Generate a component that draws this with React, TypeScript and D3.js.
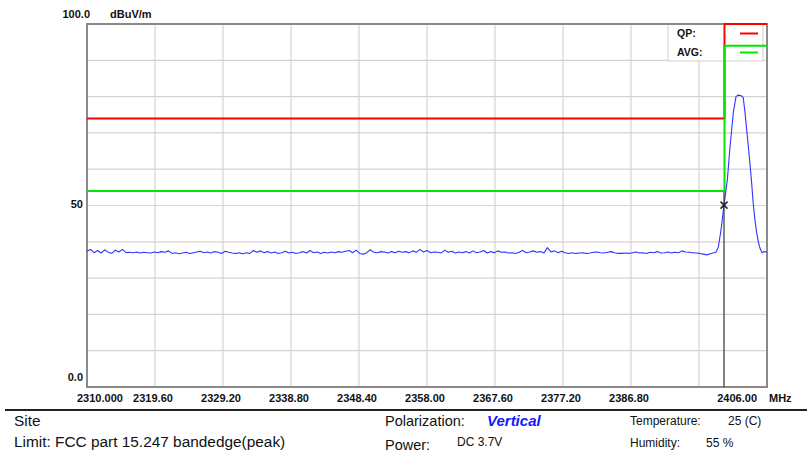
import React from "react";
import * as d3 from "d3";

// Frequency axis (MHz) and level axis (dBuV/m)
const freqDomain = [2310, 2406];
const levelDomain = [0, 100];
const xTickLabels = ["2310.000", "2319.60", "2329.20", "2338.80", "2348.40", "2358.00", "2367.60", "2377.20", "2386.80", "", "2406.00"];
const yGridValues = [0, 10, 20, 30, 40, 50, 60, 70, 80, 90, 100];

// Noise floor sampled every 0.5 MHz from 2310.0 to 2398.5 MHz
const noiseStart = 2310;
const noiseStep = 0.5;
const noiseLevels = [
  37.4, 37.9, 37.0, 37.6, 36.9, 37.8, 37.1, 36.8, 37.7, 37.2, 37.9, 37.0, 37.1, 37.0, 37.2, 36.9, 37.1, 37.0, 36.9, 37.2,
  37.0, 37.3, 37.1, 37.5, 36.8, 37.0, 36.7, 36.9, 37.1, 36.8, 37.0, 37.2, 37.4, 37.0, 37.2, 36.9, 37.3, 37.1, 36.8, 37.4,
  37.1, 36.9, 36.8, 37.0, 36.7, 37.0, 36.8, 37.6, 37.1, 37.5, 37.0, 37.3, 36.9, 37.2, 36.8, 37.0, 37.4, 36.9, 37.1, 36.8,
  37.0, 37.3, 36.9, 37.6, 37.0, 37.2, 36.8, 37.1, 36.9, 37.2, 37.0, 37.3, 37.1, 37.4, 37.6, 37.0, 37.7, 36.8, 36.6, 37.0,
  37.8, 37.1, 37.0, 37.3, 37.2, 36.9, 37.3, 37.0, 37.4, 37.1, 37.3, 37.0, 37.5, 37.1, 37.9, 37.2, 37.6, 37.0, 37.2, 37.1,
  36.9, 37.7, 37.1, 37.4, 36.9, 37.2, 37.0, 37.3, 36.9, 37.5, 37.0, 37.2, 37.6, 36.9, 37.3, 37.0, 37.5, 37.1, 37.2, 36.9,
  37.0, 36.8, 37.1, 37.6, 37.0, 37.2, 37.5, 37.1, 37.3, 36.9, 38.4, 37.2, 37.5, 37.0, 37.4, 37.0, 36.8, 37.0, 36.8, 36.9,
  37.0, 36.8, 36.9, 37.1, 37.2, 37.0, 36.9, 37.1, 37.3, 37.0, 36.8, 36.8, 36.9, 36.8, 37.0, 37.2, 36.9, 37.0, 36.8, 37.1,
  37.0, 37.3, 36.9, 37.0, 37.2, 36.9, 37.1, 37.0, 37.5, 37.2, 37.1, 37.0, 36.9, 36.8, 36.6, 36.4, 36.7, 37.0,
];

// Carrier near the upper band edge
const carrierFreqs = [2398.8, 2399.13, 2399.51, 2399.93, 2400.4, 2400.78, 2401.24, 2401.62, 2401.9, 2402.3, 2402.64, 2402.9, 2403.2, 2403.5, 2403.8, 2404.06, 2404.3, 2404.55, 2404.8, 2405.05, 2405.3, 2405.6, 2406.0];
const carrierLevels = [37.2, 38.5, 43.3, 50.1, 57.0, 66.2, 75.5, 80.0, 80.4, 80.3, 79.8, 75.5, 69.5, 63.5, 57.0, 50.5, 46.0, 42.4, 39.8, 38.0, 37.0, 37.3, 37.1];

// Limit lines (step at the 2400 MHz band edge)
const limitFreqs = [2310, 2400, 2400, 2406];
const qpLimit = [74, 74, 100, 100];
const avgLimit = [54, 54, 94, 94];

// Marker
const markerFreq = 2399.93;
const markerLevel = 50.1;

const W = 807;
const H = 456;
const plot = { left: 87, right: 767, top: 24, bottom: 387 };
const sans = "'Liberation Sans', Arial, sans-serif";

export default function App() {
  const x = d3.scaleLinear().domain(freqDomain).range([plot.left, plot.right]);
  const y = d3.scaleLinear().domain(levelDomain).range([plot.bottom, plot.top]);

  const trace: [number, number][] = [
    ...noiseLevels.map((v, i) => [noiseStart + i * noiseStep, v] as [number, number]),
    ...carrierFreqs.map((f, i) => [f, carrierLevels[i]] as [number, number]),
  ];
  const line = d3
    .line<[number, number]>()
    .x((d) => x(d[0]))
    .y((d) => y(d[1]));

  const limitPts = (vals: number[]) => limitFreqs.map((f, i) => [f, vals[i]] as [number, number]);

  const xTicks = xTickLabels.map((_, i) => freqDomain[0] + (i * (freqDomain[1] - freqDomain[0])) / (xTickLabels.length - 1));

  const mx = x(markerFreq);
  const my = y(markerLevel);

  return (
    <svg width={W} height={H} style={{ position: "absolute", left: 0, top: 0, background: "#fff" }} fontFamily={sans}>
      <rect x={0} y={0} width={W} height={H} fill="#fff" />

      {/* grid */}
      {yGridValues.map((v) => (
        <line key={"h" + v} x1={plot.left} x2={plot.right} y1={y(v)} y2={y(v)} stroke="#d8d4ce" strokeWidth={1.2} />
      ))}
      {xTicks.map((f, i) => (
        <line key={"v" + i} x1={x(f)} x2={x(f)} y1={plot.top} y2={plot.bottom} stroke="#d8d4ce" strokeWidth={1.2} />
      ))}

      {/* legend box */}
      <rect x={668} y={plot.top} width={95} height={37} fill="#fff" stroke="#cfcfcf" strokeWidth={1} />
      <text x={677} y={37} fontSize={10.5} fontWeight="bold" fill="#111">QP:</text>
      <text x={677} y={56} fontSize={10.5} fontWeight="bold" fill="#111">AVG:</text>
      <line x1={740} x2={758} y1={33.5} y2={33.5} stroke="#ff0000" strokeWidth={2} />
      <line x1={740} x2={758} y1={52.5} y2={52.5} stroke="#00e600" strokeWidth={2} />

      {/* plot frame */}
      <rect x={plot.left} y={plot.top} width={plot.right - plot.left} height={plot.bottom - plot.top} fill="none" stroke="#8a8a8a" strokeWidth={2} />

      {/* limit lines */}
      <path d={line(limitPts(qpLimit)) || ""} fill="none" stroke="#ff0000" strokeWidth={2} />
      <path d={line(limitPts(avgLimit)) || ""} fill="none" stroke="#00e600" strokeWidth={2} />

      {/* measured trace */}
      <path d={line(trace) || ""} fill="none" stroke="#3333ff" strokeWidth={1.1} strokeLinejoin="round" />

      {/* marker */}
      <line x1={mx} x2={mx} y1={y(avgLimit[0]) + 1} y2={plot.bottom} stroke="#333" strokeWidth={1.2} />
      <line x1={mx - 3.5} x2={mx + 3.5} y1={my - 3.5} y2={my + 3.5} stroke="#222" strokeWidth={1.5} />
      <line x1={mx - 3.5} x2={mx + 3.5} y1={my + 3.5} y2={my - 3.5} stroke="#222" strokeWidth={1.5} />

      {/* y labels */}
      <text x={90} y={y(100) - 6} fontSize={11} fontWeight="bold" textAnchor="end" fill="#111">100.0</text>
      <text x={110} y={y(100) - 6} fontSize={11} fontWeight="bold" fill="#111">dBuV/m</text>
      <text x={83} y={y(50) + 2} fontSize={11} fontWeight="bold" textAnchor="end" fill="#111">50</text>
      <text x={83} y={y(0) - 6} fontSize={11} fontWeight="bold" textAnchor="end" fill="#111">0.0</text>

      {/* x labels */}
      {xTickLabels.map((t, i) => {
        if (!t) return null;
        const px = x(xTicks[i]);
        const last = i === xTickLabels.length - 1;
        return (
          <text
            key={"xl" + i}
            x={i === 0 ? px - 10 : last ? px - 10 : px - 2}
            y={401.5}
            fontSize={11}
            fontWeight="bold"
            textAnchor={i === 0 ? "start" : last ? "end" : "middle"}
            fill="#111"
          >
            {t}
          </text>
        );
      })}
      <text x={769} y={401.5} fontSize={11} fontWeight="bold" fill="#111">MHz</text>

      {/* info panel */}
      <line x1={5} x2={W} y1={410} y2={410} stroke="#222" strokeWidth={2} />
      <text x={14} y={426} fontSize={15.4} fill="#111">Site</text>
      <text x={14} y={447} fontSize={15.4} fill="#111">Limit: FCC part 15.247 bandedge(peak)</text>

      <text x={385} y={426} fontSize={14.5} fill="#111">Polarization:</text>
      <text x={487} y={426} fontSize={15} fontWeight="bold" fontStyle="italic" fill="#1515ff">Vertical</text>
      <text x={385} y={450} fontSize={14.5} fill="#111">Power:</text>
      <text x={457} y={446} fontSize={12} fill="#111">DC 3.7V</text>

      <text x={630} y={425} fontSize={12} fill="#111">Temperature:</text>
      <text x={728} y={425} fontSize={12} fill="#111">25 (C)</text>
      <text x={630} y={447} fontSize={12} fill="#111">Humidity:</text>
      <text x={706} y={447} fontSize={12} fill="#111">55 %</text>
    </svg>
  );
}
